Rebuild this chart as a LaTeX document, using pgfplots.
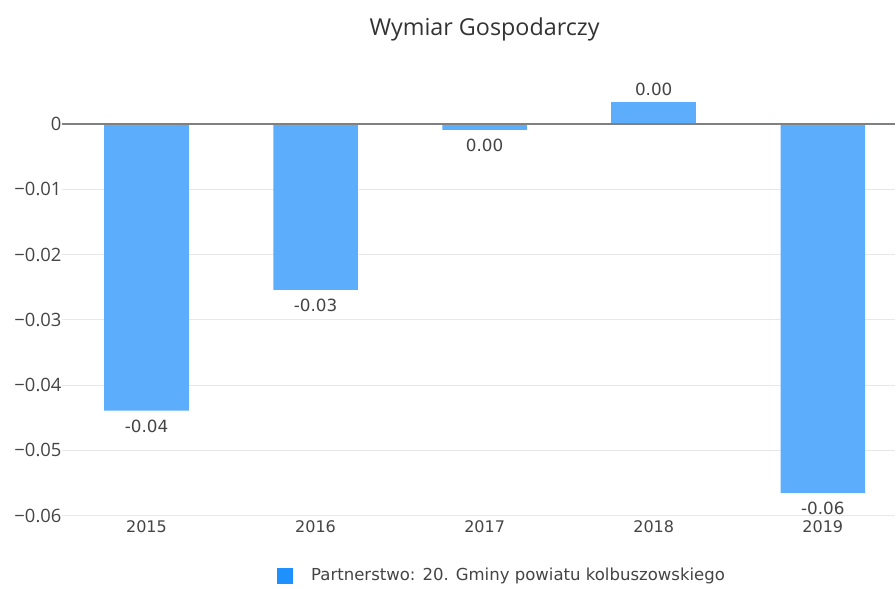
\documentclass[border=0pt]{standalone}
\usepackage{fontspec}
\setmainfont{DejaVu Sans}
\newfontfamily\osans{Open Sans}
\usepackage{pgfplots}
\usepackage{pgfplotstable}
\pgfplotsset{compat=1.18}

\definecolor{barblue}{RGB}{92,173,252}
\definecolor{legblue}{RGB}{30,144,255}
\definecolor{txt}{RGB}{68,68,68}
\definecolor{gridc}{RGB}{232,232,232}
\definecolor{zeroc}{RGB}{128,128,128}

% bars below zero (labels under the bar end)
\pgfplotstableread{
x y label
0 -0.0439 -0.04
1 -0.0254 -0.03
2 -0.0009 0.00
4 -0.0565 -0.06
}\wymiarneg
% bars above zero (labels over the bar end)
\pgfplotstableread{
x y label
3 0.0034 0.00
}\wymiarpos

\begin{document}
\begin{tikzpicture}
\begin{axis}[
    scale only axis,
    width=625.5pt, height=318.5pt,
    xmin=-0.5, xmax=4.43,
    ymin=-0.06, ymax=0.005,
    axis line style={draw=none},
    major tick length=0pt,
    scaled y ticks=false,
    xtick={0,1,2,3,4},
    xticklabels={2015,2016,2017,2018,2019},
    xticklabel style={font=\fontsize{12}{14}\selectfont, text=txt},
    ytick={-0.06,-0.05,-0.04,-0.03,-0.02,-0.01,0},
    yticklabels={−0.06,−0.05,−0.04,−0.03,−0.02,−0.01,0},
    yticklabel style={font=\osans\fontsize{13.8}{16}\selectfont, text=txt,
        inner sep=0.5pt, xshift=0.3pt},
    ymajorgrids, grid style={gridc, line width=0.8pt},
    title={Wymiar Gospodarczy},
    title style={font=\osans\fontsize{17.5}{20}\selectfont, text=black!80,
        at={(0.507,1.127)}, anchor=center},
    legend style={draw=none, at={(0.528,-0.141)}, anchor=center,
        font=\fontsize{12.4}{14}\selectfont, text=txt},
    legend image code/.code={\fill[legblue] (0pt,-6pt) rectangle (12pt,6pt);},
    legend cell align=left,
    bar width=0.5, bar shift=0pt,
    point meta=explicit symbolic,
    nodes near coords,
    every node near coord/.append style={font=\fontsize{12.6}{14}\selectfont,
        text=txt, inner sep=4pt},
]
\addplot[ybar, fill=barblue, draw=none,
    every node near coord/.append style={anchor=north, yshift=-3pt}]
    table[x=x, y=y, meta=label] {\wymiarneg};
\addlegendentry{\hspace{12pt}Partnerstwo: 20. Gminy powiatu kolbuszowskiego}
\addplot[ybar, fill=barblue, draw=none, forget plot,
    every node near coord/.append style={anchor=south}]
    table[x=x, y=y, meta=label] {\wymiarpos};
\draw[zeroc, line width=1pt] (axis cs:-0.5,0) -- (axis cs:4.43,0);
\end{axis}
\path (current axis.south west) ++(-46.5pt,-52.5pt) rectangle ++(672pt,439.5pt);
\end{tikzpicture}
\end{document}
